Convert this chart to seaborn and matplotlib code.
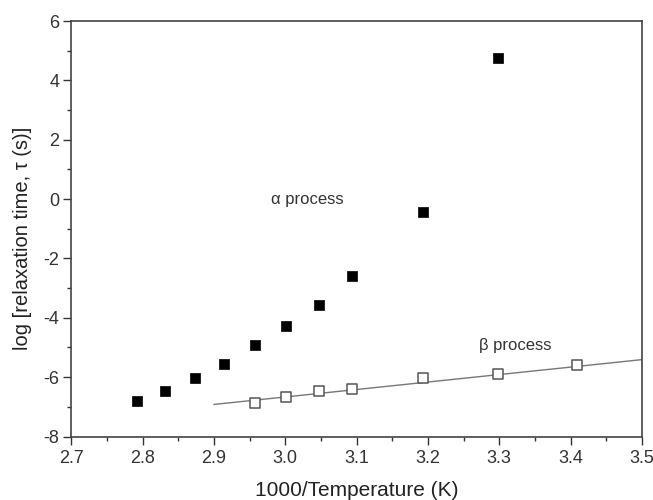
import matplotlib
matplotlib.use('Agg')
import matplotlib.pyplot as plt
import pandas as pd
import seaborn as sns
from matplotlib.ticker import MultipleLocator, FormatStrFormatter

# alpha process (filled squares)
alpha_x = [2.792, 2.832, 2.874, 2.914, 2.958, 3.001, 3.048, 3.094, 3.193, 3.298]
alpha_y = [-6.82, -6.46, -6.04, -5.55, -4.92, -4.29, -3.57, -2.60, -0.45, 4.77]

# beta process (open squares)
beta_x = [2.958, 3.001, 3.048, 3.094, 3.193, 3.298, 3.409]
beta_y = [-6.88, -6.67, -6.46, -6.39, -6.04, -5.91, -5.60]

# linear fit line
fit_x = [2.90, 3.50]
fit_y = [-6.92, -5.41]

sns.set_theme(style='white')
plt.rcParams['font.family'] = ['Liberation Sans', 'DejaVu Sans']
plt.rcParams['axes.unicode_minus'] = False

fig, ax = plt.subplots(figsize=(6.53, 5.0), dpi=100)
fig.subplots_adjust(left=0.109, right=0.983, top=0.958, bottom=0.127)

alpha_df = pd.DataFrame({'x': alpha_x, 'y': alpha_y})
beta_df = pd.DataFrame({'x': beta_x, 'y': beta_y})
fit_df = pd.DataFrame({'x': fit_x, 'y': fit_y})

sns.lineplot(data=fit_df, x='x', y='y', ax=ax, color='#777777', linewidth=1.0)
sns.scatterplot(data=alpha_df, x='x', y='y', ax=ax, marker='s', s=52,
                color='black', edgecolor='black', linewidth=0.5, zorder=3)
sns.scatterplot(data=beta_df, x='x', y='y', ax=ax, marker='s', s=42,
                facecolor='white', edgecolor='#555555', linewidth=1.1, zorder=3)

ax.set_xlim(2.7, 3.5)
ax.set_ylim(-8, 6)
ax.xaxis.set_major_locator(MultipleLocator(0.1))
ax.xaxis.set_minor_locator(MultipleLocator(0.05))
ax.yaxis.set_major_locator(MultipleLocator(2))
ax.yaxis.set_minor_locator(MultipleLocator(1))
ax.xaxis.set_major_formatter(FormatStrFormatter('%.1f'))

ax.tick_params(axis='both', which='major', direction='out', length=5.5, width=1.0,
               colors='#333333', labelsize=13, bottom=True, left=True, pad=3)
ax.tick_params(axis='both', which='minor', direction='out', length=3, width=1.0,
               colors='#333333', bottom=True, left=True)
ax.tick_params(axis='x', which='major', pad=4)
for sp in ax.spines.values():
    sp.set_color('#444444')
    sp.set_linewidth(1.2)

ax.set_xlabel('1000/Temperature (K)', fontsize=15, color='#222222')
ax.set_ylabel('log [relaxation time, \u03c4 (s)]', fontsize=14.5, color='#222222')
ax.xaxis.set_label_coords(0.5, -0.108)
ax.yaxis.set_label_coords(-0.068, 0.476)

ax.text(2.98, 0.0, '\u03b1 process', fontsize=12, color='#333333', va='center')
ax.text(3.272, -4.95, '\u03b2 process', fontsize=12, color='#333333', va='center')

fig.savefig('out.png', dpi=100)
